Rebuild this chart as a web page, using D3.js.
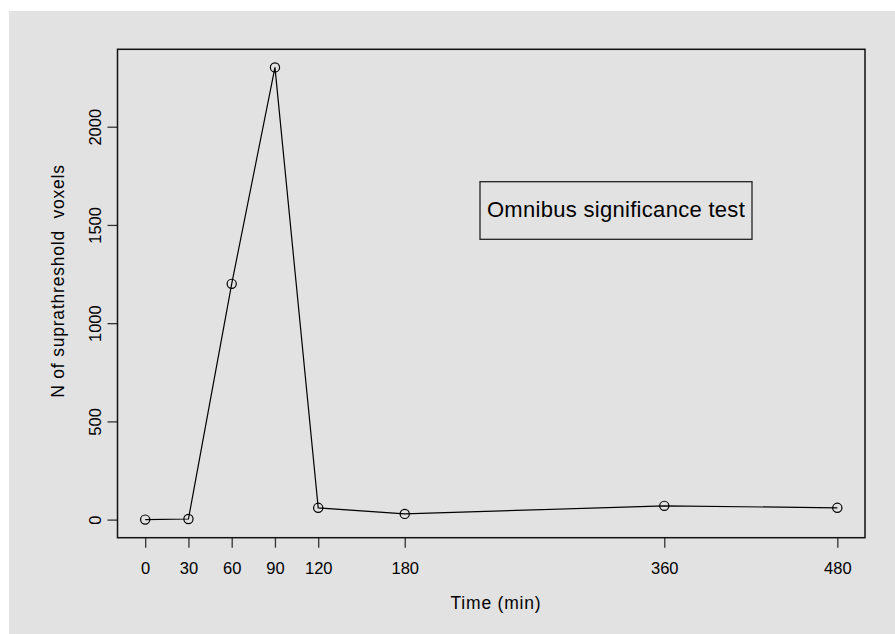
<!DOCTYPE html>
<html>
<head>
<meta charset="utf-8">
<script src="https://cdn.jsdelivr.net/npm/d3@7"></script>
<style>
  html, body { margin: 0; padding: 0; background: #ffffff; }
  svg { display: block; }
  text { font-family: "Liberation Sans", Arial, Helvetica, sans-serif; fill: #000; }
</style>
</head>
<body>
<svg id="chart" width="895" height="634"></svg>
<script>
// ---- data ----
const times = [0, 30, 60, 90, 120, 180, 360, 480];
const voxels = [0, 3, 1200, 2302, 60, 29, 70, 60];
const xTickValues = [0, 30, 60, 90, 120, 180, 360, 480];
const yTickValues = [0, 500, 1000, 1500, 2000];
const xTitle = "Time (min)";
const yTitle = "N of suprathreshold  voxels";
const legendText = "Omnibus significance test";

// ---- layout ----
const W = 895, H = 634;
const box = { left: 117.5, right: 865, top: 49.3, bottom: 537.7 };

const svg = d3.select("#chart");
svg.append("rect").attr("x", 9).attr("y", 11).attr("width", W - 9).attr("height", H - 11)
  .attr("fill", "#e2e2e2");

// R-style 4% extension
function ext(arr) {
  const [a, b] = d3.extent(arr);
  const d = (b - a) * 0.04;
  return [a - d, b + d];
}
const x = d3.scaleLinear().domain(ext(times)).range([box.left, box.right]);
const y = d3.scaleLinear().domain(ext(voxels)).range([box.bottom, box.top]);

// x axis
const gx = svg.append("g").attr("transform", `translate(0,${box.bottom})`)
  .call(d3.axisBottom(x).tickValues(xTickValues).tickSize(10).tickFormat(d3.format("d")));
gx.select(".domain").remove();
gx.selectAll(".tick line").attr("stroke", "#333").attr("stroke-width", 1.3);
gx.selectAll(".tick text").attr("y", 36.5).attr("dy", null)
  .style("font-size", "16.5px").style("font-family", "Liberation Sans, Arial, sans-serif").attr("fill", "#000");

// y axis
const gy = svg.append("g").attr("transform", `translate(${box.left},0)`)
  .call(d3.axisLeft(y).tickValues(yTickValues).tickSize(10).tickFormat(d3.format("d")));
gy.select(".domain").remove();
gy.selectAll(".tick line").attr("stroke", "#333").attr("stroke-width", 1.3);
gy.selectAll(".tick text")
  .attr("x", null).attr("dy", null).attr("y", null)
  .attr("text-anchor", "middle")
  .attr("transform", "translate(-17,0) rotate(-90)")
  .style("font-size", "16.5px").style("font-family", "Liberation Sans, Arial, sans-serif").attr("fill", "#000");

// box
svg.append("rect")
  .attr("x", box.left).attr("y", box.top)
  .attr("width", box.right - box.left).attr("height", box.bottom - box.top)
  .attr("fill", "none").attr("stroke", "#111").attr("stroke-width", 1.5);

// line
const line = d3.line().x((d, i) => x(times[i])).y(d => y(d));
svg.append("path").datum(voxels)
  .attr("d", line).attr("fill", "none").attr("stroke", "#000").attr("stroke-width", 1.2);

svg.append("g").selectAll("circle").data(voxels).join("circle")
  .attr("cx", (d, i) => x(times[i])).attr("cy", d => y(d)).attr("r", 4.6)
  .attr("fill", "none").attr("stroke", "#000").attr("stroke-width", 1.2);

// axis titles
svg.append("text").attr("x", 496).attr("y", 609).attr("text-anchor", "middle")
  .style("font-size", "17.5px").style("letter-spacing", "0.8px").text(xTitle);
svg.append("text").attr("transform", "translate(63.5,281) rotate(-90)").attr("text-anchor", "middle")
  .style("font-size", "17.5px").style("letter-spacing", "0.8px").style("white-space", "pre").text(yTitle);

// legend box
svg.append("rect").attr("x", 480).attr("y", 181.7).attr("width", 272).attr("height", 57.6)
  .attr("fill", "none").attr("stroke", "#222").attr("stroke-width", 1.3);
svg.append("text").attr("x", 616).attr("y", 217.3).attr("text-anchor", "middle")
  .style("font-size", "22px").style("letter-spacing", "0.3px").text(legendText);
</script>
</body>
</html>
